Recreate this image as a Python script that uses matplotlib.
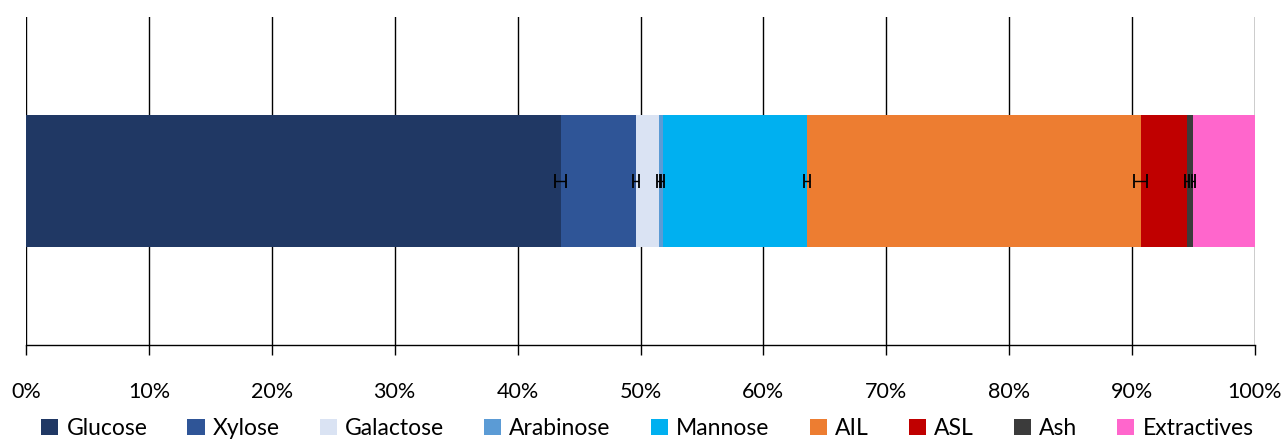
import matplotlib
matplotlib.use("Agg")
import matplotlib.pyplot as plt
import numpy as np

categories = ["Glucose", "Xylose", "Galactose", "Arabinose", "Mannose", "AIL", "ASL", "Ash", "Extractives"]
values = [43.5, 6.1, 1.87, 0.33, 11.72, 27.17, 3.75, 0.55, 5.0]
errors = [0.45, 0.25, 0.1, 0.1, 0.25, 0.55, 0.15, 0.1, 0.0]
colors = ["#203864", "#2F5597", "#DAE3F3", "#5B9BD5", "#00B0F0", "#ED7D31", "#C00000", "#3B3B3B", "#FF66CC"]
xticks = [0, 10, 20, 30, 40, 50, 60, 70, 80, 90, 100]
xticklabels = ["0%", "10%", "20%", "30%", "40%", "50%", "60%", "70%", "80%", "90%", "100%"]

plt.rcParams['font.family'] = ['Lato', 'DejaVu Sans']

fig = plt.figure(figsize=(12.87, 4.42), dpi=100)
ax = fig.add_axes([26/1287, 97/442, (1255-26)/1287, (345-17)/442])

left = 0.0
ends = []
for cat, v, c in zip(categories, values, colors):
    ax.barh(0, v, left=left, height=0.4, color=c, label=cat, zorder=2)
    left += v
    ends.append(left)

for e, err in zip(ends, errors):
    if err > 0:
        ax.errorbar(e, 0, xerr=err, fmt='none', ecolor='black', elinewidth=1,
                    capsize=5, capthick=1.3, zorder=3)

ax.set_xlim(0, 100)
ax.set_ylim(-0.5, 0.5)
ax.set_xticks(xticks)
ax.set_xticklabels(xticklabels, fontsize=15.5)
ax.set_yticks([])
ax.xaxis.grid(True, color='black', linewidth=1, zorder=0)
ax.set_axisbelow(True)
for s in ['top', 'right', 'left']:
    ax.spines[s].set_visible(False)
ax.spines['bottom'].set_linewidth(1)
ax.tick_params(axis='x', direction='out', length=7, width=1, pad=20)

handles, labels = ax.get_legend_handles_labels()
fig.legend(handles, labels, loc='lower center', bbox_to_anchor=(0.503, -0.04), ncol=9,
           frameon=False, fontsize=16.5, handlelength=0.75, handleheight=0.75,
           handletextpad=0.35, columnspacing=1.75)

fig.savefig("out.png", dpi=100)
